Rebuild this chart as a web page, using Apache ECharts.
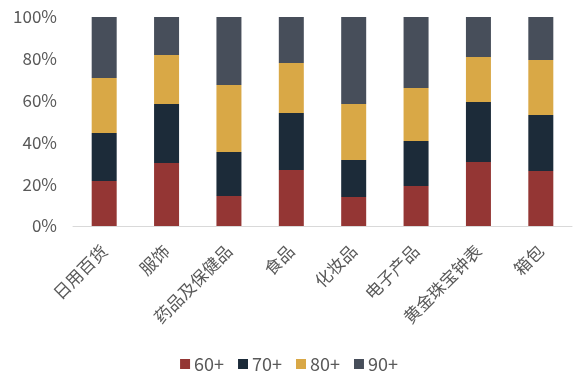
<!DOCTYPE html>
<html><head><meta charset="utf-8">
<script src="https://cdn.jsdelivr.net/npm/echarts@6/dist/echarts.min.js"></script>
<style>html,body{margin:0;padding:0;background:#fff}#c{width:578px;height:385px}</style>
</head><body><div id="c"></div>
<script>
const categories = ['日用百货','服饰','药品及保健品','食品','化妆品','电子产品','黄金珠宝钟表','箱包'];
const s60 = [21.5, 30.1, 14.4, 26.8, 13.9, 19.1, 30.6, 26.3];
const s70 = [23.0, 28.3, 21.0, 27.3, 17.7, 21.6, 28.7, 26.8];
const s80 = [26.3, 23.4, 32.1, 23.9, 26.8, 25.3, 21.6, 26.3];
const s90 = [29.2, 18.2, 32.5, 22.0, 41.6, 34.0, 19.1, 20.6];
const seriesNames = ['60+','70+','80+','90+'];
const colors = ['#943634','#1C2B39','#D9A846','#474E5A'];
const font = '"Noto Sans CJK SC", sans-serif';
const chart = echarts.init(document.getElementById('c'));
chart.setOption({
  animation: false,
  color: colors,
  grid: {left: 73, right: 6, top: 17, bottom: 159, containLabel: false},
  legend: {
    bottom: 7, left: 'center', itemWidth: 10, itemHeight: 10, itemGap: 14,
    icon: 'rect',
    textStyle: {fontFamily: font, fontSize: 18, color: '#595959', padding: [0,0,0,-1]},
    data: seriesNames
  },
  xAxis: {
    type: 'category', data: categories,
    axisLine: {lineStyle: {color: '#D9D9D9', width: 1}},
    axisTick: {show: false},
    axisLabel: {rotate: 45, interval: 0, margin: 22, fontFamily: font, fontSize: 17, color: '#595959'}
  },
  yAxis: {
    type: 'value', min: 0, max: 100, interval: 20,
    axisLine: {show: false}, axisTick: {show: false}, splitLine: {show: false},
    axisLabel: {formatter: '{value}%', margin: 16, fontFamily: font, fontSize: 17, color: '#595959'}
  },
  series: [s60, s70, s80, s90].map((d, i) => ({
    name: seriesNames[i], type: 'bar', stack: 'total', data: d, barWidth: 25
  }))
});
</script></body></html>
